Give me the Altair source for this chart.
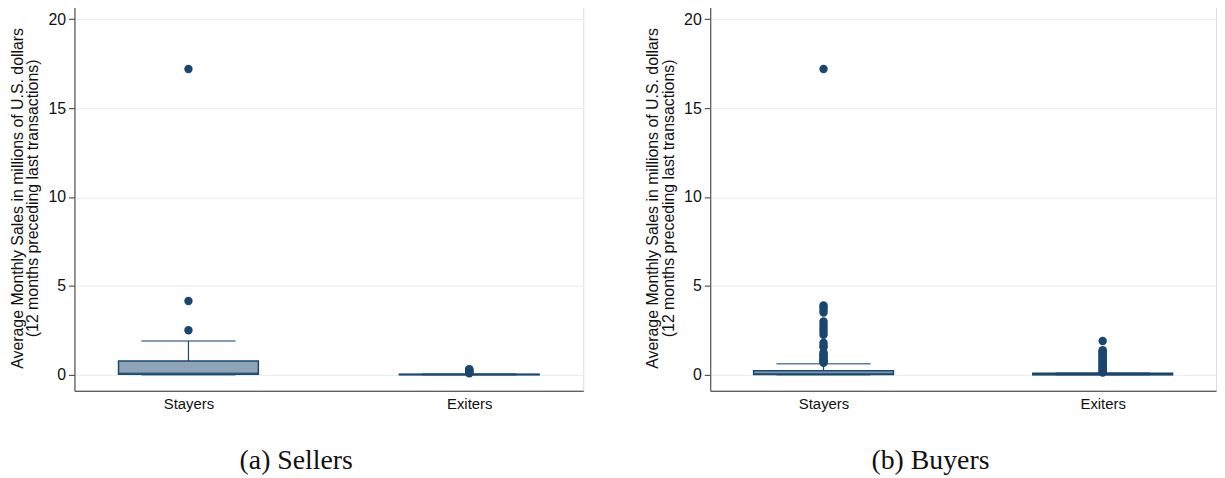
import altair as alt
import pandas as pd

groups = ["Stayers", "Exiters"]

# (a) Sellers: box summary (millions of US$)
sell_q1 = [0.03, 0.0]
sell_med = [0.08, 0.01]
sell_q3 = [0.78, 0.03]
sell_lo = [0.0, 0.0]
sell_hi = [1.9, 0.05]
sell_out_stayers = [2.5, 4.15, 17.2]
sell_out_exiters = [0.08, 0.12, 0.16, 0.2, 0.24, 0.28, 0.32]

# (b) Buyers
buy_q1 = [0.02, 0.0]
buy_med = [0.07, 0.02]
buy_q3 = [0.22, 0.08]
buy_lo = [0.0, 0.0]
buy_hi = [0.62, 0.1]
buy_out_stayers = [0.68, 0.72, 0.78, 0.85, 0.92, 1.0, 1.08, 1.15, 1.25,
                   1.55, 1.65, 1.8, 2.25, 2.4, 2.55, 2.7, 2.85, 3.0,
                   3.5, 3.65, 3.8, 3.9, 17.2]
buy_out_exiters = [0.12, 0.18, 0.25, 0.31, 0.38, 0.44, 0.5, 0.57, 0.63,
                   0.7, 0.76, 0.83, 0.9, 0.96, 1.03, 1.1, 1.16, 1.22,
                   1.28, 1.33, 1.38, 1.9]

y_title = ["Average Monthly Sales in millions of U.S. dollars",
           "(12 months preceding last transactions)"]
y_ticks = [0, 5, 10, 15, 20]

NAVY = "#1a476f"
FILL = "#90a4b8"
GRID = "#e8f0f1"


def panel(q1, med, q3, lo, hi, out_s, out_e, caption, width):
    summ = pd.DataFrame({"group": groups, "q1": q1, "med": med, "q3": q3,
                         "lo": lo, "hi": hi})
    outs = pd.DataFrame({
        "group": ["Stayers"] * len(out_s) + ["Exiters"] * len(out_e),
        "v": out_s + out_e,
    })
    x = alt.X("group:N", sort=groups,
              scale=alt.Scale(type="point", padding=0.406),
              axis=alt.Axis(title=None, labelAngle=0, ticks=False,
                            domain=True, domainColor="#333333",
                            domainWidth=1.2, grid=False,
                            labelFontSize=15, labelPadding=6,
                            labelColor="#111111", labelFont="Liberation Sans"))
    yscale = alt.Scale(domain=[-0.9, 20.8], nice=False, zero=False)
    yaxis = alt.Axis(title=y_title, values=y_ticks, grid=True,
                     gridColor=GRID, gridWidth=1.2,
                     domainColor="#555555", domainWidth=1.2,
                     tickColor="#555555", tickSize=6, tickWidth=1.2,
                     labelFontSize=16, labelPadding=3, labelColor="#111111",
                     labelFont="Liberation Sans",
                     titleFont="Liberation Sans", titleFontSize=16,
                     titleFontWeight="normal", titleColor="#111111",
                     titlePadding=7, titleLineHeight=16)

    def Y(f):
        return alt.Y(f, scale=yscale, axis=yaxis)

    base = alt.Chart(summ)
    whisk_hi = base.mark_rule(color=NAVY, strokeWidth=1.2).encode(
        x=x, y=Y("q3:Q"), y2="hi:Q")
    whisk_lo = base.mark_rule(color=NAVY, strokeWidth=1.2).encode(
        x=x, y=Y("lo:Q"), y2="q1:Q")
    cap_hi = base.mark_tick(color=NAVY, size=95, thickness=1.5,
                            orient="horizontal").encode(x=x, y=Y("hi:Q"))
    cap_lo = base.mark_tick(color=NAVY, size=95, thickness=1.5,
                            orient="horizontal").encode(x=x, y=Y("lo:Q"))
    box = base.mark_bar(size=141, color=FILL, stroke=NAVY,
                        strokeWidth=1.5).encode(x=x, y=Y("q1:Q"), y2="q3:Q")
    median = base.mark_tick(color=NAVY, size=141, thickness=1.5,
                            orient="horizontal").encode(x=x, y=Y("med:Q"))
    pts = alt.Chart(outs).mark_circle(size=72, color=NAVY, opacity=1).encode(
        x=x, y=Y("v:Q"))

    return alt.layer(whisk_hi, whisk_lo, cap_hi, cap_lo, box, median, pts).properties(
        width=width, height=389,
        title=alt.TitleParams(caption, orient="bottom", anchor="middle",
                              frame="bounds",
                              font="Liberation Serif", fontSize=28,
                              fontWeight="normal", color="#111111",
                              offset=36))


left = panel(sell_q1, sell_med, sell_q3, sell_lo, sell_hi,
             sell_out_stayers, sell_out_exiters, "(a) Sellers", 513)
right = panel(buy_q1, buy_med, buy_q3, buy_lo, buy_hi,
              buy_out_stayers, buy_out_exiters, "(b) Buyers", 510)

chart = alt.hconcat(left, right, spacing=60).properties(
    padding={"left": 0, "top": -6, "right": 0, "bottom": 0}
).configure_view(stroke=None).configure(background="white")

chart.save("out.html", embed_options={"renderer": "svg", "actions": False})
